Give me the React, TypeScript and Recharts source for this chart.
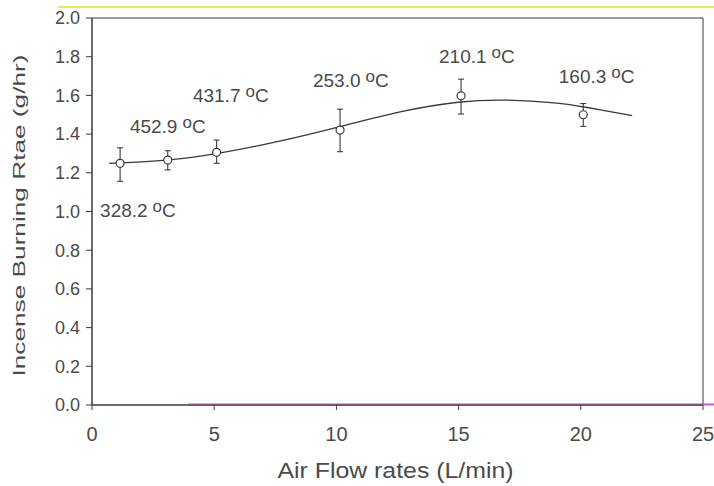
import {
  ComposedChart,
  Line,
  Scatter,
  ErrorBar,
  XAxis,
  YAxis,
  ReferenceArea,
  ReferenceLine,
} from 'recharts';

// measured points (air flow L/min -> burning rate g/hr)
const flowRates = [1.15, 3.1, 5.1, 10.15, 15.1, 20.1];
const burnRates = [1.249, 1.266, 1.306, 1.421, 1.598, 1.5];
const errLow = [0.093, 0.051, 0.057, 0.112, 0.094, 0.06];
const errHigh = [0.08, 0.048, 0.063, 0.108, 0.086, 0.058];

// fitted curve
const fitX = [0.7, 3.1, 5.1, 7.7, 10.15, 12.6, 15.1, 16.9, 19.1, 20.1, 22.1];
const fitY = [1.249, 1.262, 1.296, 1.362, 1.438, 1.52, 1.572, 1.58, 1.562, 1.542, 1.495];

// temperature notes (anchor = left end of text baseline)
const noteText = ['328.2', '452.9', '431.7', '253.0', '210.1', '160.3'];
const noteX = [0.33, 1.55, 4.13, 9.04, 14.2, 19.1];
const noteY = [0.97, 1.406, 1.566, 1.643, 1.767, 1.664];

const xTicks = [0, 5, 10, 15, 20, 25];
const yTicks = [0, 0.2, 0.4, 0.6, 0.8, 1.0, 1.2, 1.4, 1.6, 1.8, 2.0];

const points = flowRates.map((x, i) => ({ x, y: burnRates[i], err: [errLow[i], errHigh[i]] }));
const fit = fitX.map((x, i) => ({ x, y: fitY[i] }));
const notes = noteText.map((label, i) => ({ x: noteX[i], y: noteY[i], label }));

const FONT = '"Liberation Sans", Arial, sans-serif';
const INK = '#4a4a4a';
const LINE = '#3a3a3a';

function YTitle(props: any) {
  const { x, y, height } = props.viewBox;
  const cx = x + 25;
  const cy = y + height / 2 + 4;
  return (
    <text
      x={cx}
      y={cy}
      transform={`rotate(-90 ${cx} ${cy})`}
      textAnchor="middle"
      fontSize={17}
      fontFamily={FONT}
      fill={INK}
      textLength={322}
      lengthAdjust="spacingAndGlyphs"
    >
      Incense Burning Rtae (g/hr)
    </text>
  );
}

function XTitle(props: any) {
  const { x, y, width } = props.viewBox;
  return (
    <text
      x={x + width / 2 - 2}
      y={y + 73}
      textAnchor="middle"
      fontSize={22}
      fontFamily={FONT}
      fill={INK}
      textLength={236}
      lengthAdjust="spacingAndGlyphs"
    >
      Air Flow rates (L/min)
    </text>
  );
}

function Note(props: any) {
  const { cx, cy, payload } = props;
  return (
    <text x={cx} y={cy} fontSize={19} fontFamily={FONT} fill={INK}>
      {payload.label}
      <tspan dx={5} dy={-5} fontSize={17}>o</tspan>
      <tspan dy={5}>C</tspan>
    </text>
  );
}

function OpenCircle(props: any) {
  const { cx, cy } = props;
  return <circle cx={cx} cy={cy} r={4} fill="#fff" stroke={LINE} strokeWidth={1.2} />;
}

export default function App() {
  return (
    <div style={{ position: 'absolute', left: 0, top: 0, background: '#fff' }}>
      <ComposedChart width={714} height={486} margin={{ top: 18, right: 11, left: 0, bottom: 0 }}>
        <XAxis
          type="number"
          dataKey="x"
          domain={[0, 25]}
          ticks={xTicks}
          interval={0}
          allowDataOverflow
          stroke={LINE}
          tickSize={5}
          tickMargin={17}
          tick={{ fontSize: 20, fill: INK, fontFamily: FONT }}
          height={81}
          label={XTitle}
        />
        <YAxis
          type="number"
          dataKey="y"
          domain={[0, 2]}
          ticks={yTicks}
          interval={0}
          allowDataOverflow
          stroke={LINE}
          tickSize={6}
          tickMargin={6}
          tickFormatter={(v: number) => v.toFixed(1)}
          tick={{ fontSize: 18, fill: INK, fontFamily: FONT }}
          width={92}
          label={YTitle}
        />
        <ReferenceArea x1={0} x2={25} y1={0} y2={2} fill="none" stroke={LINE} strokeWidth={1} />
        <ReferenceLine
          segment={[{ x: -1.4, y: 2.057 }, { x: 25.5, y: 2.057 }]}
          stroke="#efe65c"
          strokeWidth={2}
          ifOverflow="visible"
        />
        <ReferenceLine
          segment={[{ x: 3.93, y: 0.003 }, { x: 25.5, y: 0.003 }]}
          stroke="#d155cf"
          strokeWidth={2}
          ifOverflow="visible"
        />
        <Line
          data={fit}
          dataKey="y"
          type="basis"
          stroke={LINE}
          strokeWidth={1.3}
          dot={false}
          activeDot={false}
          isAnimationActive={false}
        />
        <Scatter data={points} dataKey="y" shape={OpenCircle} isAnimationActive={false}>
          <ErrorBar dataKey="err" direction="y" width={3} stroke={LINE} strokeWidth={1.1} />
        </Scatter>
        <Scatter data={notes} dataKey="y" shape={Note} isAnimationActive={false} />
      </ComposedChart>
    </div>
  );
}
